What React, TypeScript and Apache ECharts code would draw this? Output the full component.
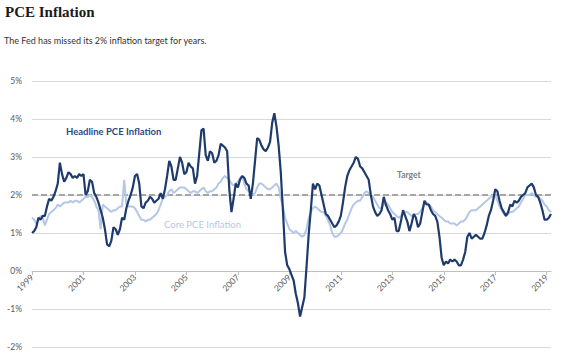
import React, { useEffect, useRef } from "react";
import * as echarts from "echarts";

// Monthly year-over-year PCE inflation (%), Jan 1999 – Mar 2019
const headline: number[] = [
  1.0, 1.05, 1.15, 1.4, 1.35, 1.45, 1.45, 1.7, 1.9, 1.85, 1.95, 2.1, // 1999
  2.3, 2.85, 2.55, 2.35, 2.45, 2.6, 2.55, 2.45, 2.5, 2.45, 2.55, 2.5, // 2000
  2.55, 2.0, 2.1, 2.4, 2.35, 2.05, 1.95, 1.8, 1.6, 1.4, 1.1, 0.7, // 2001
  0.65, 0.8, 1.15, 1.1, 0.95, 1.1, 1.4, 1.35, 1.65, 1.85, 2.0, 2.2, // 2002
  2.5, 2.55, 2.3, 1.7, 1.65, 1.8, 1.85, 1.95, 1.9, 1.8, 1.85, 1.9, // 2003
  2.05, 1.9, 2.15, 2.5, 2.9, 2.75, 2.4, 2.4, 2.7, 3.0, 2.85, 2.55, // 2004
  2.6, 2.85, 2.75, 2.7, 2.3, 2.5, 3.1, 3.7, 3.75, 3.05, 2.9, 3.15, // 2005
  3.1, 2.85, 2.9, 3.05, 3.35, 3.3, 3.25, 3.15, 2.15, 1.55, 1.9, 2.3, // 2006
  2.2, 2.4, 2.5, 2.45, 2.3, 2.25, 1.9, 2.3, 2.9, 3.5, 3.45, 3.3, // 2007
  3.2, 3.15, 3.25, 3.4, 3.9, 4.15, 3.8, 3.3, 2.6, 1.6, 0.5, 0.15, // 2008
  0.05, -0.1, -0.25, -0.6, -0.85, -1.2, -0.95, -0.7, 0.1, 0.95, 1.6, 2.3, // 2009
  2.15, 2.3, 2.25, 2.0, 1.75, 1.5, 1.45, 1.35, 1.25, 1.15, 1.2, 1.3, // 2010
  1.45, 1.8, 2.2, 2.5, 2.65, 2.75, 2.85, 3.0, 2.95, 2.75, 2.7, 2.6, // 2011
  2.5, 2.4, 2.0, 1.7, 1.55, 1.45, 1.5, 1.6, 1.95, 1.75, 1.6, 1.5, // 2012
  1.35, 1.4, 1.05, 1.05, 1.3, 1.6, 1.45, 1.3, 1.05, 1.25, 1.5, 1.4, // 2013
  1.15, 1.25, 1.55, 1.85, 1.75, 1.75, 1.6, 1.5, 1.45, 1.3, 0.9, 0.35, // 2014
  0.15, 0.25, 0.2, 0.3, 0.25, 0.3, 0.25, 0.15, 0.15, 0.3, 0.5, 0.9, // 2015
  1.0, 0.85, 0.9, 0.95, 0.9, 0.85, 0.85, 1.0, 1.2, 1.45, 1.6, 1.85, // 2016
  2.15, 2.1, 1.85, 1.65, 1.55, 1.45, 1.55, 1.75, 1.7, 1.85, 1.8, 1.85, // 2017
  1.95, 2.0, 2.05, 2.2, 2.25, 2.3, 2.2, 2.0, 1.95, 1.8, 1.6, 1.35, // 2018
  1.35, 1.4, 1.5, // 2019
];

const core: number[] = [
  1.4, 1.35, 1.25, 1.35, 1.45, 1.4, 1.2, 1.35, 1.5, 1.55, 1.6, 1.65, // 1999
  1.75, 1.7, 1.75, 1.8, 1.8, 1.8, 1.85, 1.8, 1.85, 1.85, 1.8, 1.85, // 2000
  1.9, 1.95, 1.95, 2.0, 1.95, 1.85, 1.7, 1.6, 1.1, 1.75, 1.7, 1.65, // 2001
  1.6, 1.55, 1.6, 1.6, 1.65, 1.7, 1.7, 2.4, 1.75, 1.7, 1.7, 1.7, // 2002
  1.65, 1.55, 1.45, 1.35, 1.35, 1.3, 1.35, 1.35, 1.4, 1.45, 1.5, 1.6, // 2003
  1.75, 1.9, 1.95, 2.0, 2.1, 2.15, 2.05, 2.1, 2.15, 2.2, 2.2, 2.2, // 2004
  2.15, 2.1, 2.05, 2.1, 2.1, 2.05, 2.1, 2.15, 2.2, 2.1, 2.05, 2.1, // 2005
  2.1, 2.15, 2.2, 2.3, 2.35, 2.45, 2.5, 2.45, 2.4, 2.3, 2.25, 2.3, // 2006
  2.35, 2.45, 2.5, 2.3, 2.15, 2.1, 2.05, 2.0, 2.05, 2.2, 2.3, 2.3, // 2007
  2.25, 2.2, 2.15, 2.15, 2.2, 2.25, 2.3, 2.2, 1.9, 1.7, 1.4, 1.25, // 2008
  1.1, 1.05, 1.0, 1.05, 1.0, 0.95, 0.9, 0.95, 1.1, 1.4, 1.55, 1.65, // 2009
  1.7, 1.65, 1.6, 1.55, 1.55, 1.45, 1.35, 1.2, 1.0, 0.9, 0.9, 0.95, // 2010
  1.0, 1.1, 1.25, 1.35, 1.5, 1.65, 1.75, 1.8, 1.85, 1.85, 1.95, 2.05, // 2011
  2.1, 2.05, 2.0, 1.95, 1.85, 1.75, 1.65, 1.65, 1.75, 1.8, 1.75, 1.65, // 2012
  1.55, 1.5, 1.45, 1.4, 1.45, 1.5, 1.55, 1.55, 1.5, 1.45, 1.45, 1.5, // 2013
  1.5, 1.55, 1.65, 1.75, 1.8, 1.75, 1.7, 1.6, 1.55, 1.5, 1.45, 1.4, // 2014
  1.35, 1.3, 1.3, 1.25, 1.25, 1.25, 1.2, 1.25, 1.3, 1.3, 1.35, 1.45, // 2015
  1.55, 1.6, 1.6, 1.6, 1.65, 1.7, 1.75, 1.8, 1.85, 1.9, 1.95, 2.0, // 2016
  2.0, 1.85, 1.7, 1.6, 1.5, 1.45, 1.5, 1.55, 1.55, 1.6, 1.65, 1.7, // 2017
  1.8, 1.9, 2.0, 2.0, 2.0, 2.05, 2.0, 1.95, 1.95, 1.9, 1.85, 1.75, // 2018
  1.7, 1.6, 1.55, // 2019
];

const target = 2;
const startYear = 1999;
const yTicks = { min: -2, max: 5, interval: 1 };

const months: string[] = headline.map((_, i) => {
  const y = startYear + Math.floor(i / 12);
  const m = (i % 12) + 1;
  return `${y}-${m < 10 ? "0" + m : m}`;
});

const showYearTick = (i: number) => i % 24 === 0;

export default function App() {
  const ref = useRef<HTMLDivElement>(null);

  useEffect(() => {
    if (!ref.current) return;
    const chart = echarts.init(ref.current, undefined, { renderer: "svg" });
    const labelColor = "#595959";
    const gridTop = 81;
    const gridBottom = 10;
    const plotH = 357 - gridTop - gridBottom;
    const zeroOffset = (plotH * (0 - yTicks.min)) / (yTicks.max - yTicks.min);
    chart.setOption({
      animation: false,
      backgroundColor: "#ffffff",
      grid: {
        left: 32,
        right: 13,
        top: gridTop,
        bottom: gridBottom,
        containLabel: false,
        outerBoundsMode: "none",
      },
      xAxis: {
        type: "category",
        data: months,
        boundaryGap: false,
        offset: -zeroOffset,
        axisLine: { onZero: false, lineStyle: { color: "#bfbfbf", width: 1 } },
        axisTick: { show: true, interval: showYearTick, length: 4, lineStyle: { color: "#bfbfbf" } },
        axisLabel: {
          interval: showYearTick,
          rotate: 45,
          formatter: (v: string) => v.slice(0, 4),
          color: labelColor,
          fontSize: 8.5,
          fontFamily: "Lato",
          margin: 5,
        },
        splitLine: { show: false },
      },
      yAxis: {
        type: "value",
        min: yTicks.min,
        max: yTicks.max,
        interval: yTicks.interval,
        axisLine: { show: false },
        axisTick: { show: false },
        axisLabel: {
          formatter: "{value}%",
          color: labelColor,
          fontSize: 8.5,
          fontFamily: "Lato",
          margin: 10,
        },
        splitLine: { lineStyle: { color: "#d9d9d9", width: 1 } },
      },
      series: [
        {
          name: "Core PCE Inflation",
          type: "line",
          data: core,
          symbol: "none",
          lineStyle: { color: "#b4c7e7", width: 2 },
          z: 2,
          markLine: {
            silent: true,
            symbol: "none",
            label: { show: false },
            lineStyle: { color: "#a6a6a6", type: [6, 3], width: 2 },
            data: [{ yAxis: target }],
            z: 1,
          },
        },
        {
          name: "Headline PCE Inflation",
          type: "line",
          data: headline,
          symbol: "none",
          lineStyle: { color: "#1f3b6b", width: 2.2 },
          z: 3,
        },
      ],
      graphic: [
        {
          type: "text",
          left: 5,
          top: 4,
          style: {
            text: "PCE Inflation",
            font: "bold 15px 'Liberation Serif'",
            fill: "#1a1a1a",
          },
        },
        {
          type: "text",
          left: 4,
          top: 36,
          style: {
            text: "The Fed has missed its 2% inflation target for years.",
            font: "9px Lato",
            fill: "#333333",
          },
        },
        {
          type: "text",
          left: 66,
          top: 126,
          style: {
            text: "Headline PCE Inflation",
            font: "bold 9.5px Lato",
            fill: "#2a4a7f",
          },
        },
        {
          type: "text",
          left: 164,
          top: 219,
          style: {
            text: "Core PCE Inflation",
            font: "9.5px Lato",
            fill: "#b4c7e7",
          },
        },
        {
          type: "text",
          left: 397,
          top: 170,
          style: {
            text: "Target",
            font: "bold 8.5px Lato",
            fill: "#808080",
          },
        },
      ],
    });
    return () => chart.dispose();
  }, []);

  return (
    <div
      ref={ref}
      style={{ position: "absolute", left: 0, top: 0, width: 564, height: 357 }}
    />
  );
}
